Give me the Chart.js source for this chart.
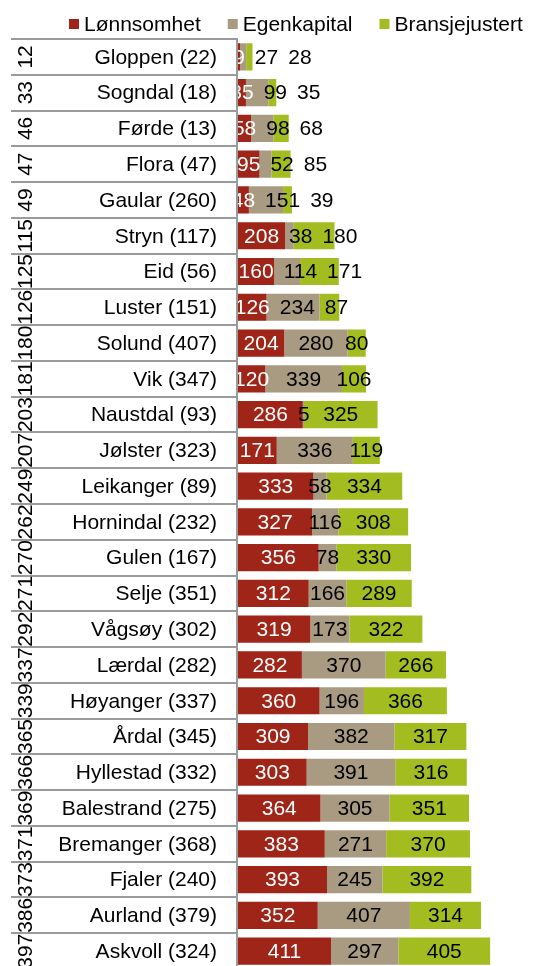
<!doctype html>
<html lang="no">

<head>
  <meta charset="utf-8">
  <style>
    * {
      margin: 0;
      padding: 0;
    }

    body {
      background: white;
      overflow: hidden;
    }

    .chartBox {
      position: relative;
      width: 534px;
      height: 976px;
    }
  </style>
</head>

<body>
  <div class="chartBox">
    <canvas id="myChart"></canvas>
  </div>
  <script src="https://cdn.jsdelivr.net/npm/chart.js"></script>
  <script>
    // data
    const kommuner = ['Gloppen (22)', 'Sogndal (18)', 'Førde (13)', 'Flora (47)', 'Gaular (260)', 'Stryn (117)',
      'Eid (56)', 'Luster (151)', 'Solund (407)', 'Vik (347)', 'Naustdal (93)', 'Jølster (323)', 'Leikanger (89)',
      'Hornindal (232)', 'Gulen (167)', 'Selje (351)', 'Vågsøy (302)', 'Lærdal (282)', 'Høyanger (337)',
      'Årdal (345)', 'Hyllestad (332)', 'Balestrand (275)', 'Bremanger (368)', 'Fjaler (240)', 'Aurland (379)',
      'Askvoll (324)']
    const rangering = [12, 33, 46, 47, 49, 115, 125, 126, 180, 181, 203, 207, 249, 262, 270, 271, 292, 337, 339,
      365, 366, 369, 371, 373, 386, 397]
    const lonnsomhet = [9, 35, 58, 95, 48, 208, 160, 126, 204, 120, 286, 171, 333, 327, 356, 312, 319, 282, 360,
      309, 303, 364, 383, 393, 352, 411]
    const egenkapital = [27, 99, 98, 52, 151, 38, 114, 234, 280, 339, 5, 336, 58, 116, 78, 166, 173, 370, 196,
      382, 391, 305, 271, 245, 407, 297]
    const bransjejustert = [28, 35, 68, 85, 39, 180, 171, 87, 80, 106, 325, 119, 334, 308, 330, 289, 322, 266, 366,
      317, 316, 351, 370, 392, 314, 405]

    const FONT = '21px "Liberation Sans", Arial, sans-serif'

    // legend on top, drawn by hand so the spacing matches
    const topLegend = {
      id: 'topLegend',
      afterDraw(chart) {
        const ctx = chart.ctx
        ctx.save()
        ctx.font = FONT
        ctx.textBaseline = 'middle'
        ctx.textAlign = 'left'
        let x = 69
        chart.data.datasets.forEach(ds => {
          ctx.fillStyle = ds.backgroundColor
          ctx.fillRect(x, 19, 10, 10)
          ctx.fillStyle = '#000'
          ctx.fillText(ds.label, x + 15, 25)
          x += 15 + ctx.measureText(ds.label).width + 27
        })
        ctx.restore()
      }
    }

    // the two-level category "table" on the left
    const sideTable = {
      id: 'sideTable',
      afterDraw(chart) {
        const ctx = chart.ctx
        const area = chart.chartArea
        const yScale = chart.scales.y
        const step = (area.bottom - area.top) / kommuner.length
        ctx.save()
        ctx.strokeStyle = '#9a9a9a'
        ctx.lineWidth = 2
        for (let i = 0; i <= kommuner.length; i++) {
          const yy = Math.round(area.top + i * step)
          ctx.beginPath()
          ctx.moveTo(11, yy)
          ctx.lineTo(area.left, yy)
          ctx.stroke()
        }
        ctx.beginPath()
        ctx.moveTo(area.left - 1, area.top - 1)
        ctx.lineTo(area.left - 1, area.bottom)
        ctx.stroke()

        ctx.font = FONT
        ctx.fillStyle = '#000'
        ctx.textBaseline = 'middle'
        kommuner.forEach((name, i) => {
          const cy = yScale.getPixelForValue(i)
          ctx.textAlign = 'right'
          ctx.fillText(name, 217, cy + 1)
          ctx.save()
          ctx.translate(26, cy)
          ctx.rotate(-Math.PI / 2)
          ctx.textAlign = 'center'
          ctx.fillText(String(rangering[i]), 0, 0)
          ctx.restore()
        })
        ctx.restore()
      }
    }

    // value labels inside the bars, pushed right when they would overlap
    const barLabels = {
      id: 'barLabels',
      afterDatasetsDraw(chart) {
        const ctx = chart.ctx
        const area = chart.chartArea
        ctx.save()
        ctx.beginPath()
        ctx.rect(area.left, 0, chart.width - area.left, chart.height)
        ctx.clip()
        ctx.font = FONT
        ctx.textBaseline = 'middle'
        ctx.textAlign = 'left'
        kommuner.forEach((k, i) => {
          let prevRight = -1000
          chart.data.datasets.forEach((ds, d) => {
            const bar = chart.getDatasetMeta(d).data[i]
            const txt = String(ds.data[i])
            const w = ctx.measureText(txt).width
            let left = (bar.base + bar.x) / 2 - w / 2
            if (left < prevRight + 10) left = prevRight + 10
            ctx.fillStyle = d === 0 ? '#fff' : '#000'
            ctx.fillText(txt, left, bar.y + 1)
            prevRight = left + w
          })
        })
        ctx.restore()
      }
    }

    const data = {
      labels: kommuner,
      datasets: [{
        label: 'Lønnsomhet',
        data: lonnsomhet,
        backgroundColor: '#9e2517'
      }, {
        label: 'Egenkapital',
        data: egenkapital,
        backgroundColor: '#a89b81'
      }, {
        label: 'Bransjejustert',
        data: bransjejustert,
        backgroundColor: '#a3bd21'
      }]
    }

    const config = {
      type: 'bar',
      data,
      options: {
        indexAxis: 'y',
        responsive: true,
        maintainAspectRatio: false,
        animation: false,
        datasets: {
          bar: {
            barPercentage: 0.76,
            categoryPercentage: 1,
            borderWidth: 0
          }
        },
        layout: {
          padding: { top: 39, left: 238, right: 1.5, bottom: 7 }
        },
        scales: {
          x: {
            stacked: true,
            min: 0,
            max: 1300,
            display: false
          },
          y: {
            stacked: true,
            display: false
          }
        },
        plugins: {
          legend: { display: false },
          tooltip: { enabled: false }
        }
      },
      plugins: [sideTable, barLabels, topLegend]
    }

    const myChart = new Chart(document.getElementById('myChart'), config)
  </script>
</body>

</html>
